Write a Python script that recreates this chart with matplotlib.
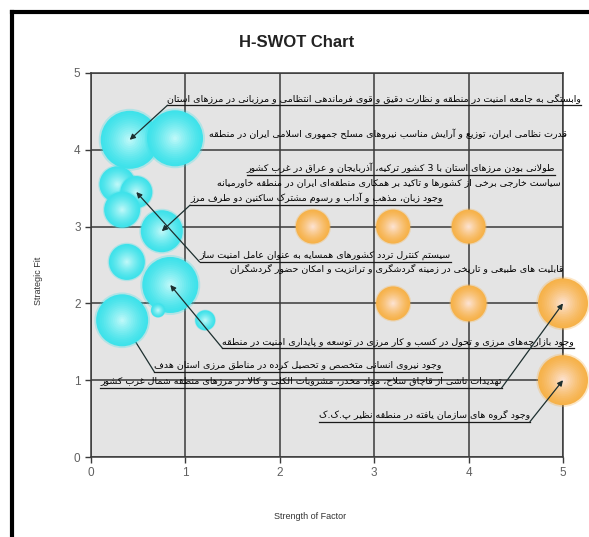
import numpy as np
import matplotlib
matplotlib.use("Agg")
import matplotlib.pyplot as plt
from matplotlib.lines import Line2D
from matplotlib.colors import to_rgb

# --- data -------------------------------------------------------------
# cyan factors (left cluster)
a_x = [0.41, 0.89, 0.28, 0.48, 0.33, 0.75, 0.38, 0.84, 0.33, 0.71, 1.21]
a_y = [4.13, 4.15, 3.55, 3.45, 3.22, 2.94, 2.54, 2.24, 1.78, 1.91, 1.78]
a_size = [29, 28, 18, 16, 18, 21, 18, 28, 26, 7, 10]

# orange factors
b_x = [2.35, 3.2, 4.0, 3.2, 4.0, 5.0, 5.0]
b_y = [3.0, 3.0, 3.0, 2.0, 2.0, 2.0, 1.0]
b_size = [17, 17, 17, 17, 18, 25, 25]

labels = [
    "وابستگی به جامعه امنیت در منطقه و نظارت دقیق و قوی فرماندهی انتظامی و مرزبانی در مرزهای استان",
    "قدرت نظامی ایران، توزیع و آرایش مناسب نیروهای مسلح جمهوری اسلامی ایران در منطقه",
    "طولانی بودن مرزهای استان با 3 کشور ترکیه، آذربایجان و عراق در غرب کشور",
    "سیاست خارجی برخی از کشورها و تاکید بر همکاری منطقه‌ای ایران در منطقه خاورمیانه",
    "وجود زبان، مذهب و آداب و رسوم مشترک ساکنین دو طرف مرز",
    "سیستم کنترل تردد کشورهای همسایه به عنوان عامل امنیت ساز",
    "قابلیت های طبیعی و تاریخی در زمینه گردشگری و ترانزیت و امکان حضور گردشگران",
    "وجود بازارچه‌های مرزی و تحول در کسب و کار مرزی در توسعه و پایداری امنیت در منطقه",
    "وجود نیروی انسانی متخصص و تحصیل کرده در مناطق مرزی استان هدف",
    "تهدیدات ناشی از قاچاق سلاح، مواد مخدر، مشروبات الکلی و کالا در مرزهای منطقه شمال غرب کشور",
    "وجود گروه های سازمان یافته در منطقه نظیر پ.ک.ک",
]
# which bubble each label points at (None = no leader line)
label_target = [("a", 0), None, None, None, ("a", 5), ("a", 3), None,
                ("a", 7), ("a", 8), ("b", 5), ("b", 6)]

# --- label layout (anchor point, alignment, underline) -----------------
label_x = [0.81, 5.04, 4.92, 4.97, 1.05, 1.15, 5.0, 1.39, 0.67, 4.35, 4.65]
label_y = [4.58, 4.11, 3.67, 3.49, 3.28, 2.54, 2.36, 1.42, 1.11, 0.90, 0.46]
label_ha = ["left", "right", "right", "right", "left", "left", "right",
            "left", "left", "right", "right"]
label_under = [True, False, True, False, True, True, False, True, True, True, True]

# --- minimal persian shaping (matplotlib has no complex text layout) ---
FORMS = {
    "ا": (0xFE8D, 0xFE8E), "آ": (0xFE81, 0xFE82), "أ": (0xFE83, 0xFE84),
    "ب": (0xFE8F, 0xFE90, 0xFE91, 0xFE92), "پ": (0xFB56, 0xFB57, 0xFB58, 0xFB59),
    "ت": (0xFE95, 0xFE96, 0xFE97, 0xFE98), "ث": (0xFE99, 0xFE9A, 0xFE9B, 0xFE9C),
    "ج": (0xFE9D, 0xFE9E, 0xFE9F, 0xFEA0), "چ": (0xFB7A, 0xFB7B, 0xFB7C, 0xFB7D),
    "ح": (0xFEA1, 0xFEA2, 0xFEA3, 0xFEA4), "خ": (0xFEA5, 0xFEA6, 0xFEA7, 0xFEA8),
    "د": (0xFEA9, 0xFEAA), "ذ": (0xFEAB, 0xFEAC), "ر": (0xFEAD, 0xFEAE),
    "ز": (0xFEAF, 0xFEB0), "ژ": (0xFB8A, 0xFB8B),
    "س": (0xFEB1, 0xFEB2, 0xFEB3, 0xFEB4), "ش": (0xFEB5, 0xFEB6, 0xFEB7, 0xFEB8),
    "ص": (0xFEB9, 0xFEBA, 0xFEBB, 0xFEBC), "ض": (0xFEBD, 0xFEBE, 0xFEBF, 0xFEC0),
    "ط": (0xFEC1, 0xFEC2, 0xFEC3, 0xFEC4), "ظ": (0xFEC5, 0xFEC6, 0xFEC7, 0xFEC8),
    "ع": (0xFEC9, 0xFECA, 0xFECB, 0xFECC), "غ": (0xFECD, 0xFECE, 0xFECF, 0xFED0),
    "ف": (0xFED1, 0xFED2, 0xFED3, 0xFED4), "ق": (0xFED5, 0xFED6, 0xFED7, 0xFED8),
    "ک": (0xFB8E, 0xFB8F, 0xFB90, 0xFB91), "گ": (0xFB92, 0xFB93, 0xFB94, 0xFB95),
    "ل": (0xFEDD, 0xFEDE, 0xFEDF, 0xFEE0), "م": (0xFEE1, 0xFEE2, 0xFEE3, 0xFEE4),
    "ن": (0xFEE5, 0xFEE6, 0xFEE7, 0xFEE8), "و": (0xFEED, 0xFEEE),
    "ه": (0xFEE9, 0xFEEA, 0xFEEB, 0xFEEC), "ی": (0xFBFC, 0xFBFD, 0xFBFE, 0xFBFF),
    "ئ": (0xFE89, 0xFE8A, 0xFE8B, 0xFE8C),
}
LAMALEF = {"ا": (0xFEFB, 0xFEFC), "آ": (0xFEF5, 0xFEF6), "أ": (0xFEF7, 0xFEF8)}


def shape(text):
    """join letters with presentation forms and reverse for RTL display"""
    s = text.replace("ي", "ی").replace("ك", "ک")
    out = []
    i = 0
    while i < len(s):
        c = s[i]
        if c not in FORMS:
            if c != "\u200c":
                out.append(c)
            i += 1
            continue
        prev = s[i - 1] if i > 0 else ""
        join_prev = prev in FORMS and len(FORMS[prev]) == 4
        if c == "ل" and i + 1 < len(s) and s[i + 1] in LAMALEF:
            iso, fin = LAMALEF[s[i + 1]]
            out.append(chr(fin if join_prev else iso))
            i += 2
            continue
        nxt = s[i + 1] if i + 1 < len(s) else ""
        join_next = len(FORMS[c]) == 4 and nxt in FORMS
        f = FORMS[c]
        if join_prev and join_next:
            code = f[3]
        elif join_prev:
            code = f[1]
        elif join_next:
            code = f[2]
        else:
            code = f[0]
        out.append(chr(code))
        i += 1
    return "".join(reversed(out))


def bubbles(ax, xs, ys, sizes, edge, center):
    """shaded bubbles: stacked discs from edge colour to centre colour"""
    e = np.array(to_rgb(edge))
    c = np.array(to_rgb(center))
    n = 14
    for x, y, r in zip(xs, ys, sizes):
        t = np.arange(n) / n
        diam = 2 * r * 0.72 * (1 - t)  # px -> pt at 100 dpi
        cols = [tuple(e + (c - e) * tt ** 1.3) for tt in t]
        ax.scatter([x], [y], s=(2 * r * 0.72 * 1.07) ** 2, color=edge,
                   alpha=0.3, edgecolors="none", zorder=3, clip_on=False)
        ax.scatter([x] * n, [y] * n, s=diam ** 2, c=cols,
                   edgecolors="none", zorder=3, clip_on=False)


fig = plt.figure(figsize=(5.89, 5.37), dpi=100)
ax = fig.add_axes([91 / 589, 80 / 537, 472 / 589, 384 / 537])
ax.set_facecolor("#e4e4e4")
ax.set_xlim(0, 5)
ax.set_ylim(0, 5)
ax.set_xticks(range(6))
ax.set_yticks(range(6))
ax.grid(True, color="#3a3a3a", lw=1.1)
ax.set_axisbelow(True)
for sp in ax.spines.values():
    sp.set_color("#3a3a3a")
    sp.set_linewidth(1.1)
ax.tick_params(length=4, width=1, color="#3a3a3a", labelcolor="#606060",
               labelsize=8.5)
for t in ax.get_xticklabels() + ax.get_yticklabels():
    t.set_fontfamily("Liberation Sans")

bubbles(ax, a_x, a_y, a_size, "#3fe2ea", "#c8fafa")
bubbles(ax, b_x, b_y, b_size, "#f6b24a", "#fde6dc")

ax.text(0.436, 1.08, "H-SWOT Chart", transform=ax.transAxes, ha="center",
        va="center", fontsize=12, fontweight="bold", family="Liberation Sans",
        color="#222222")
ax.set_xlabel("Strength of Factor", fontsize=6.5, family="Liberation Sans",
              color="#333333")
ax.set_ylabel("Strategic Fit", fontsize=6.5, family="Liberation Sans",
              color="#333333")
ax.xaxis.set_label_coords(0.464, -0.142)
ax.yaxis.set_label_coords(-0.102, 0.46)

# labels with underline and leader line to their bubble
renderer = fig.canvas.get_renderer()
inv = ax.transData.inverted()
for i, txt in enumerate(labels):
    x, y = label_x[i], label_y[i]
    t = ax.text(x, y + 0.03, shape(txt), ha=label_ha[i], va="bottom",
                fontsize=6.8, family="DejaVu Sans", color="black", zorder=6)
    if label_under[i]:
        bb = t.get_window_extent(renderer)
        x0 = inv.transform((bb.x0, 0))[0]
        x1 = inv.transform((bb.x1, 0))[0]
        ax.add_line(Line2D([x0, x1], [y, y], color="#1a1a1a", lw=0.9,
                           clip_on=False, zorder=5))
    if label_target[i] is not None:
        grp, k = label_target[i]
        tx, ty = (a_x[k], a_y[k]) if grp == "a" else (b_x[k], b_y[k])
        z = 2.5 if i == 8 else 5
        ax.annotate("", xy=(tx, ty), xytext=(x, y), zorder=z,
                    arrowprops=dict(arrowstyle="-|>", color="#1d2f2f", lw=0.9,
                                    mutation_scale=8, shrinkA=0, shrinkB=0))

# black frame of the original screenshot
fig.add_artist(Line2D([12 / 589, 12 / 589], [0, 1 - 12 / 537], color="black",
                      lw=3, transform=fig.transFigure))
fig.add_artist(Line2D([12 / 589, 1], [1 - 12 / 537, 1 - 12 / 537],
                      color="black", lw=3, transform=fig.transFigure))

fig.savefig("out.png", dpi=100)
